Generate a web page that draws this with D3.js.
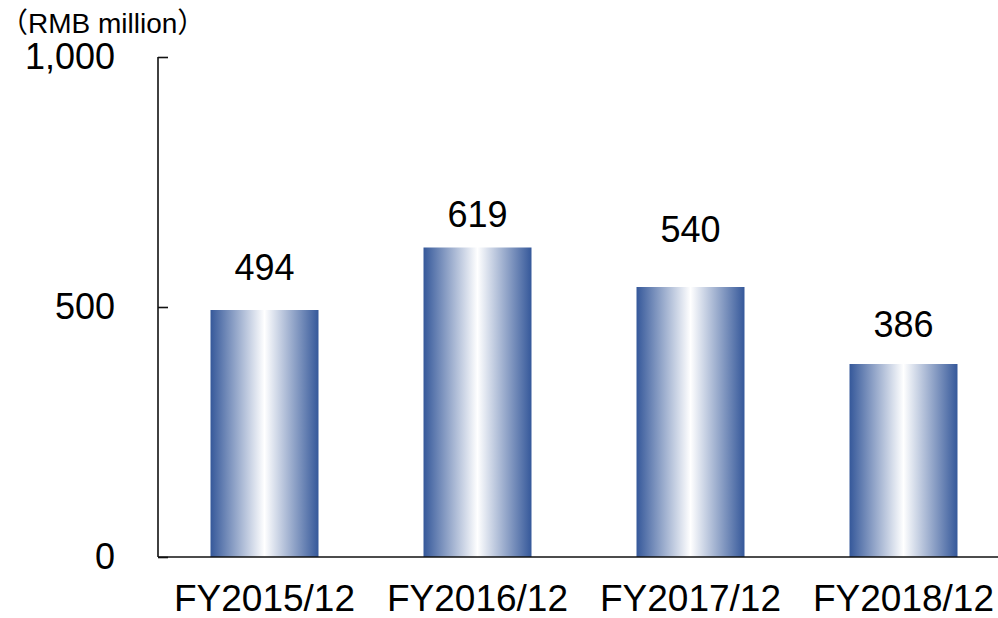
<!DOCTYPE html>
<html>
<head>
<meta charset="utf-8">
<script src="https://cdn.jsdelivr.net/npm/d3@7"></script>
<style>
  html, body { margin: 0; padding: 0; background: #fff; }
  svg { display: block; }
  text { font-family: "Liberation Sans", Arial, "Noto Sans CJK JP", sans-serif; fill: #000; }
</style>
</head>
<body>
<svg id="chart" width="998" height="618"></svg>
<script>
const categories = ["FY2015/12", "FY2016/12", "FY2017/12", "FY2018/12"];
const values = [494, 619, 540, 386];
const yTicks = [0, 500, 1000];
const unitLabel = "（RMB million）";
// per-label vertical gap between bar top and label baseline (as in original)
const labelGap = [30, 21, 45, 27];

const W = 998, H = 618;
const mLeft = 158, mRight = 1010, mTop = 57, mBottom = 557;

const svg = d3.select("#chart");

const defs = svg.append("defs");
const grad = defs.append("linearGradient")
  .attr("id", "barGrad").attr("x1", "0%").attr("x2", "100%").attr("y1", "0%").attr("y2", "0%");
grad.append("stop").attr("offset", "0%").attr("stop-color", "#35589a");
grad.append("stop").attr("offset", "50%").attr("stop-color", "#ffffff");
grad.append("stop").attr("offset", "100%").attr("stop-color", "#35589a");

const x = d3.scaleBand().domain(categories).range([mLeft, mRight]).paddingInner(0.493).paddingOuter(0.2465);
const y = d3.scaleLinear().domain([0, 1000]).range([mBottom, mTop]);

// bars
svg.append("g").selectAll("rect").data(values).join("rect")
  .attr("x", (d, i) => x(categories[i]))
  .attr("width", x.bandwidth())
  .attr("y", d => y(d))
  .attr("height", d => y(0) - y(d))
  .attr("fill", "url(#barGrad)");

// value labels
svg.append("g").selectAll("text").data(values).join("text")
  .attr("x", (d, i) => x(categories[i]) + x.bandwidth() / 2)
  .attr("y", (d, i) => y(d) - labelGap[i])
  .attr("text-anchor", "middle")
  .style("font-size", "36px")
  .text(d => d3.format(",")(d));

// y axis
const yAxis = svg.append("g").attr("transform", `translate(${mLeft},0)`)
  .call(d3.axisLeft(y).tickValues(yTicks).tickFormat(d3.format(",")).tickSize(-10).tickPadding(43));
yAxis.select(".domain").attr("stroke", "#111").attr("stroke-width", 1.6).attr("d", `M0,${mTop}V${mBottom}`);
yAxis.selectAll(".tick line").attr("stroke", "#111").attr("stroke-width", 1.6);
yAxis.selectAll(".tick text").style("font-size", "36px").attr("font-family", null);

// x axis
const xAxis = svg.append("g").attr("transform", `translate(0,${mBottom})`)
  .call(d3.axisBottom(x).tickSize(0).tickPadding(28));
xAxis.select(".domain").remove();
xAxis.selectAll(".tick text").style("font-size", "37px").attr("font-family", null);
svg.append("line")
  .attr("x1", mLeft).attr("x2", W).attr("y1", y(0)).attr("y2", y(0))
  .attr("stroke", "#111").attr("stroke-width", 1.6);

// unit label
svg.append("text").attr("x", 0).attr("y", 33)
  .style("font-size", "28px")
  .text(unitLabel);
</script>
</body>
</html>
